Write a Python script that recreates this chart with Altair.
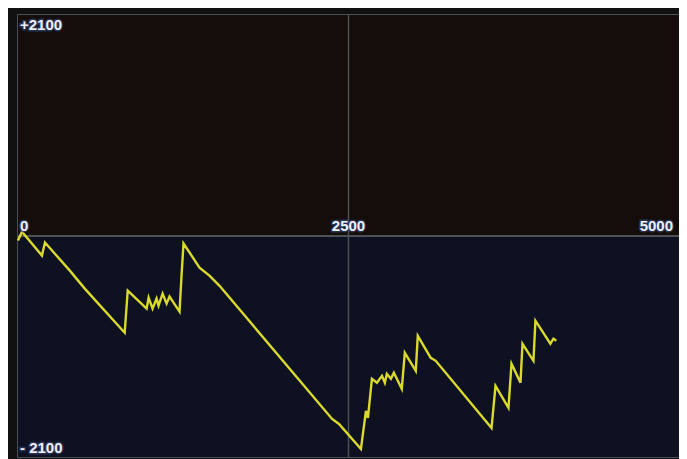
import altair as alt
import pandas as pd

# Line trace (x: 0..5000, y: -2100..+2100)
xs = [0, 30, 181, 204, 392, 505, 807, 830, 973, 988, 1018, 1048, 1063, 1094, 1124, 1146,
      1222, 1237, 1252, 1373, 1448, 1523, 2376, 2428, 2594, 2632, 2647, 2677, 2715, 2753,
      2775, 2790, 2821, 2843, 2903, 2926, 3009, 3024, 3122, 3160, 3582, 3612, 3710, 3733,
      3801, 3816, 3899, 3914, 4027, 4050, 4072]
ys = [-43, 40, -186, -62, -329, -500, -919, -519, -690, -586, -690, -595, -662, -548, -643, -576,
      -719, -376, -71, -300, -376, -471, -1738, -1786, -2024, -1662, -1729, -1357, -1395, -1329,
      -1395, -1310, -1357, -1300, -1452, -1110, -1281, -948, -1157, -1186, -1824, -1424, -1633, -1214,
      -1395, -1024, -1186, -805, -1024, -976, -995]

# Labels
label_text = ["+2100", "0", "2500", "5000", "- 2100"]
label_x = [0, 0, 2500, 5000, 0]
label_y = [2100, 0, 0, 0, -2100]

X_DOMAIN = [0, 5000]
Y_DOMAIN = [-2100, 2100]

xs_scale = alt.Scale(domain=X_DOMAIN, nice=False, zero=False)
ys_scale = alt.Scale(domain=Y_DOMAIN, nice=False, zero=False)

line_df = pd.DataFrame({"x": xs, "y": ys, "order": list(range(len(xs)))})

bg_df = pd.DataFrame({
    "x": [X_DOMAIN[0], X_DOMAIN[0]],
    "x2": [X_DOMAIN[1], X_DOMAIN[1]],
    "y": [0, Y_DOMAIN[0]],
    "y2": [Y_DOMAIN[1], 0],
    "half": ["top", "bottom"],
})

bg = alt.Chart(bg_df).mark_rect().encode(
    x=alt.X("x:Q", scale=xs_scale, axis=None),
    x2="x2",
    y=alt.Y("y:Q", scale=ys_scale, axis=None),
    y2="y2",
    color=alt.Color("half:N", scale=alt.Scale(domain=["top", "bottom"],
                                              range=["#140d09", "#0d1121"]), legend=None),
)

vgrid = alt.Chart(pd.DataFrame({"x": [2500]})).mark_rule(color="#4d5156", strokeWidth=1.5).encode(
    x=alt.X("x:Q", scale=xs_scale, axis=None)
)
hgrid = alt.Chart(pd.DataFrame({"y": [0]})).mark_rule(color="#4d5156", strokeWidth=2).encode(
    y=alt.Y("y:Q", scale=ys_scale, axis=None)
)

line = alt.Chart(line_df).mark_line(color="#dada2c", strokeWidth=2.4, strokeJoin="miter").encode(
    x=alt.X("x:Q", scale=xs_scale, axis=None),
    y=alt.Y("y:Q", scale=ys_scale, axis=None),
    order="order:Q",
)

lab_df = pd.DataFrame({"t": label_text, "x": label_x, "y": label_y})

def lab(i, align, baseline, dx, dy, halo=False):
    kw = dict(align=align, baseline=baseline, dx=dx, dy=dy,
              font="Liberation Sans", fontSize=15, fontWeight="bold")
    if halo:
        kw.update(color="#2f3a62", stroke="#2f3a62", strokeWidth=3, opacity=0.8)
    else:
        kw.update(color="#eef0f8")
    return alt.Chart(lab_df.iloc[[i]]).mark_text(**kw).encode(
        x=alt.X("x:Q", scale=xs_scale, axis=None),
        y=alt.Y("y:Q", scale=ys_scale, axis=None),
        text="t:N",
    )

specs = [
    (0, "left", "top", 2, 3),
    (1, "left", "bottom", 2, -2),
    (2, "center", "bottom", 0, -2),
    (3, "right", "bottom", -6, -2),
    (4, "left", "bottom", 2, -1),
]
halos = [lab(*s, halo=True) for s in specs]
texts = [lab(*s) for s in specs]

chart = alt.layer(bg, vgrid, hgrid, line, *halos, *texts).properties(
    width=661, height=442,
    background="#111111",
    padding={"left": 10, "top": 7, "right": 0, "bottom": 2},
    autosize=alt.AutoSizeParams(type="none"),
).configure_view(stroke="#4a4f55", strokeWidth=2)

chart.save("out.html", embed_options={"renderer": "svg", "actions": False})
